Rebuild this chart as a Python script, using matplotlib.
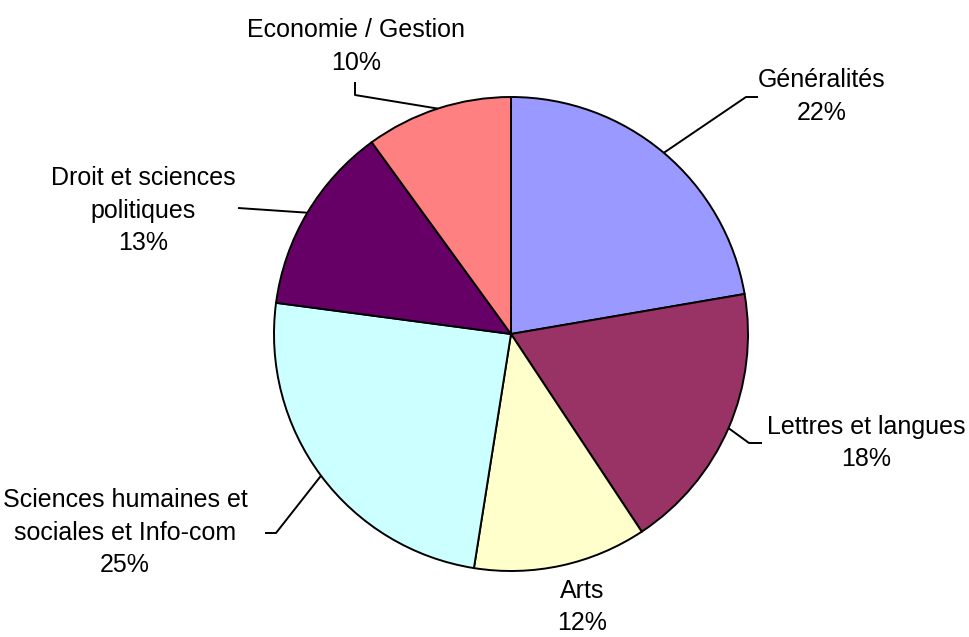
import matplotlib
matplotlib.use("Agg")
import matplotlib.pyplot as plt
import numpy as np

categories = ["Généralités", "Lettres et langues", "Arts",
              "Sciences humaines et\nsociales et Info-com",
              "Droit et sciences\npolitiques", "Economie / Gestion"]
values = [22.3, 18.4, 11.8, 24.6, 12.9, 10.0]
colors = ["#9999FF", "#993366", "#FFFFCC", "#CCFFFF", "#660066", "#FF8080"]

W, H = 970, 637
fig = plt.figure(figsize=(W / 100, H / 100), dpi=100)
ax = fig.add_axes([0, 0, 1, 1])

cx, cy, R = 511, 334, 237
def P(x, y):
    return (x, H - y)

wedges, _ = ax.pie(values, colors=colors, startangle=90, counterclock=False,
                   center=P(cx, cy), radius=R,
                   wedgeprops=dict(edgecolor="black", linewidth=1.4))
ax.set_xlim(0, W)
ax.set_ylim(0, H)
ax.set_aspect("equal")
ax.axis("off")

# label layout: (text center x, first line y (px), leader elbow, leader end)
layout = [
    (822, 80, (746, 97), (758, 97)),
    (866, 427, (749, 443), (762, 443)),
    (582, 591, None, None),
    (125, 500, (276, 533), (265, 533)),
    (143, 178, (238, 208), None),
    (356, 30, (355, 95), (355, 82)),
]
line_h = 32.5
total = sum(values)
font = dict(family=["Liberation Sans", "DejaVu Sans"], fontsize=18, color="black")
cum = 0
for cat, v, (tx, ty, elbow, end) in zip(categories, values, layout):
    mid = (cum + v / 2) / total * 2 * np.pi
    cum += v
    ex, ey = cx + R * np.sin(mid), cy - R * np.cos(mid)
    lines = cat.split("\n") + [f"{round(v / total * 100):.0f}%"]
    for i, ln in enumerate(lines):
        ax.text(*P(tx, ty + i * line_h), ln, ha="center", va="center", **font)
    if elbow is not None:
        pts = [(ex, ey), elbow] + ([end] if end is not None else [])
        xs = [p[0] for p in pts]
        ys = [H - p[1] for p in pts]
        ax.plot(xs, ys, color="black", linewidth=1.4, solid_capstyle="butt")

fig.savefig("out.png", dpi=100, facecolor="white")
